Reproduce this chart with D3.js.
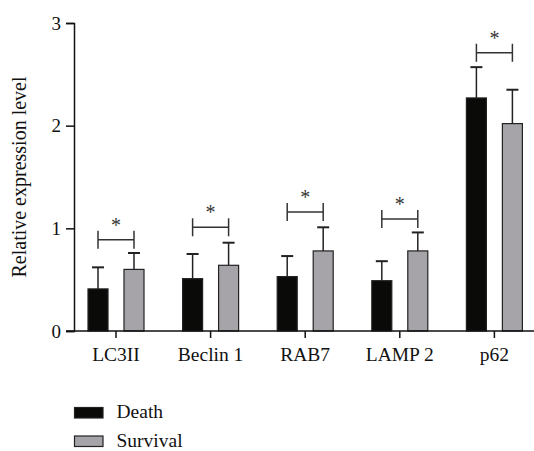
<!DOCTYPE html>
<html>
<head>
<meta charset="utf-8">
<title>relative expression</title>
<script src="https://cdn.jsdelivr.net/npm/d3@7"></script>
<style>
  body { margin: 0; background: #fff; }
  svg { display: block; }
  text { font-family: "Liberation Serif", "DejaVu Serif", serif; fill: #111; }
</style>
</head>
<body>
<svg width="534" height="451"></svg>
<script>
// values
var categories = ["LC3II", "Beclin 1", "RAB7", "LAMP 2", "p62"];
var groups = ["Death", "Survival"];
var deathMean = [0.41, 0.51, 0.53, 0.49, 2.27];
var deathErr  = [0.21, 0.24, 0.20, 0.19, 0.30];
var survMean  = [0.60, 0.64, 0.78, 0.78, 2.02];
var survErr   = [0.16, 0.22, 0.23, 0.18, 0.33];
var bracketY  = [0.89, 1.01, 1.16, 1.09, 2.71];
var yTicks = [0, 1, 2, 3];

var colors = { Death: "#0a0a08", Survival: "#a6a4a8" };

var svg = d3.select("svg");

var y = d3.scaleLinear().domain([0, 3]).range([331, 23]);
var x = d3.scaleBand().domain(categories).range([68.7, 541.7]);
var xs = d3.scaleBand().domain(groups).range([19.3, 75.3]).paddingInner(0.444);

// flat rows for the bars
var rows = [];
categories.forEach(function(c, i) {
  rows.push({ cat: c, g: "Death", v: deathMean[i], e: deathErr[i] });
  rows.push({ cat: c, g: "Survival", v: survMean[i], e: survErr[i] });
});

// error bars (only upward) drawn first so the bar covers the stem
var eb = svg.append("g").attr("stroke", "#222").attr("stroke-width", 1.5);
rows.forEach(function(d) {
  var cx = x(d.cat) + xs(d.g) + xs.bandwidth() / 2;
  eb.append("line").attr("x1", cx).attr("x2", cx)
    .attr("y1", y(d.v)).attr("y2", y(d.v + d.e));
  eb.append("line").attr("x1", cx - 6).attr("x2", cx + 6)
    .attr("y1", y(d.v + d.e)).attr("y2", y(d.v + d.e)).attr("stroke-width", 2);
});

svg.append("g").selectAll("rect").data(rows).enter().append("rect")
  .attr("x", function(d) { return x(d.cat) + xs(d.g); })
  .attr("y", function(d) { return y(d.v); })
  .attr("width", xs.bandwidth())
  .attr("height", function(d) { return y(0) - y(d.v); })
  .attr("fill", function(d) { return colors[d.g]; })
  .attr("stroke", "#222").attr("stroke-width", 1.2);

// significance brackets
var br = svg.append("g").attr("stroke", "#333").attr("stroke-width", 1.5).attr("fill", "none");
categories.forEach(function(c, i) {
  var a = x(c) + xs("Death") + xs.bandwidth() / 2;
  var b = x(c) + xs("Survival") + xs.bandwidth() / 2;
  var yy = y(bracketY[i]);
  br.append("line").attr("x1", a).attr("x2", b).attr("y1", yy).attr("y2", yy);
  br.append("line").attr("x1", a).attr("x2", a).attr("y1", yy - 9).attr("y2", yy + 9);
  br.append("line").attr("x1", b).attr("x2", b).attr("y1", yy - 9).attr("y2", yy + 9);
  svg.append("text").attr("x", (a + b) / 2).attr("y", yy - 8)
    .attr("text-anchor", "middle").style("font-size", "20px").style("fill", "#333")
    .text("*");
});

// y axis
var yAxis = svg.append("g").attr("transform", "translate(74,0)")
  .call(d3.axisLeft(y).tickValues(yTicks).tickFormat(d3.format("d")).tickSize(8).tickPadding(5));
yAxis.select(".domain").attr("stroke", "#111").attr("stroke-width", 1.5);
yAxis.selectAll(".tick line").attr("stroke", "#111").attr("stroke-width", 1.5);
yAxis.selectAll("text").style("font-size", "19px").style("font-family", "Liberation Serif").style("fill", "#111");

// x axis
var xAxis = svg.append("g").attr("transform", "translate(0,331)")
  .call(d3.axisBottom(x).tickSize(7).tickPadding(9).tickSizeOuter(0));
xAxis.select(".domain").remove();
xAxis.append("line").attr("x1", 66).attr("x2", 534).attr("stroke", "#111").attr("stroke-width", 1.5);
xAxis.selectAll(".tick line").attr("stroke", "#111").attr("stroke-width", 1.5);
xAxis.selectAll("text").style("font-size", "19.5px").style("font-family", "Liberation Serif").style("fill", "#111");

svg.append("text")
  .attr("transform", "translate(26,177) rotate(-90)")
  .attr("text-anchor", "middle").style("font-size", "20px")
  .text("Relative expression level");

// legend
var lg = svg.append("g");
groups.forEach(function(g, i) {
  var ly = 407.5 + i * 28.5;
  lg.append("rect").attr("x", 74.5).attr("y", ly).attr("width", 28.5).attr("height", 10.5)
    .attr("fill", colors[g]).attr("stroke", "#222").attr("stroke-width", 1.2);
  lg.append("text").attr("x", 116.5).attr("y", ly + 10.5).style("font-size", "19.5px").text(g);
});
</script>
</body>
</html>
